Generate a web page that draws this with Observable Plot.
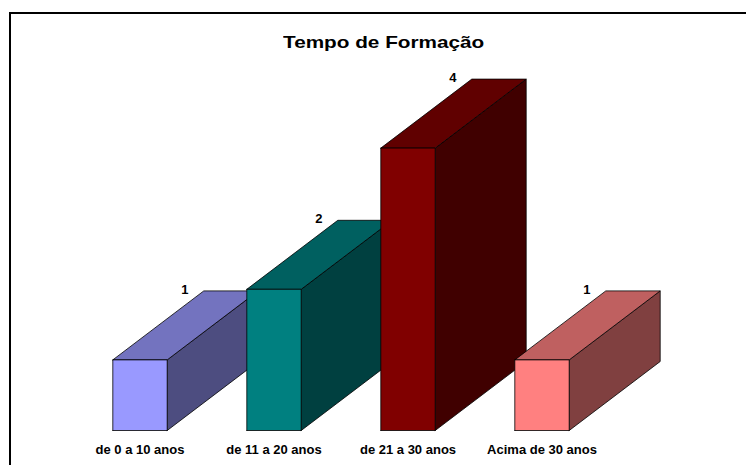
<!DOCTYPE html>
<html>
<head>
<meta charset="utf-8">
<script src="https://cdn.jsdelivr.net/npm/d3@7"></script>
<script src="https://cdn.jsdelivr.net/npm/@observablehq/plot@0.6"></script>
<style>
  html, body { margin: 0; padding: 0; background: #fff; overflow: hidden; }
  #wrap { position: relative; width: 746px; height: 465px; overflow: hidden; font-family: "Liberation Sans", Arial, sans-serif; }
  #frame { position: absolute; left: 9px; top: 12px; width: 800px; height: 500px; border-top: 2px solid #000; border-left: 2px solid #000; pointer-events: none; }
  #title { height: 26px; padding-top: 34px; line-height: 17px; font-size: 17px; font-weight: bold; color: #000; white-space: nowrap; }
  #title span { display: inline-block; margin-left: 283px; transform-origin: left center; transform: scaleX(1.22); }
  #chart svg { display: block; }
</style>
</head>
<body>
<div id="wrap">
  <div id="frame"></div>
  <div id="title"><span>Tempo de Formação</span></div>
  <div id="chart"></div>
</div>
<script>
// ---- data ----
const categories = ["de 0 a 10 anos", "de 11 a 20 anos", "de 21 a 30 anos", "Acima de 30 anos"];
const values = [1, 2, 4, 1];
const frontColors = ["#9999FF", "#008080", "#800000", "#FF8080"];
const topColors = ["#7373BF", "#006060", "#600000", "#BF6060"];
const sideColors = ["#4D4D80", "#004040", "#400000", "#804040"];

// ---- geometry (scale setup) ----
const W = 746, H = 405;
const xDomain = [0, 3], xRange = [139.5, 541.5];
const yDomain = [0, 4], yRange = [370, 87.6];
const pxPerX = (xRange[1] - xRange[0]) / (xDomain[1] - xDomain[0]);
const pxPerY = (yRange[0] - yRange[1]) / (yDomain[1] - yDomain[0]);
const hw = 27.2 / pxPerX;      // half bar width, in x units
const D = 91 / pxPerX;         // depth offset x, in x units
const E = 69 / pxPerY;         // depth offset y, in value units

const faces = [];
values.forEach((v, i) => {
  const x0 = i - hw, x1 = i + hw;
  const side = [[x1, 0], [x1 + D, E], [x1 + D, v + E], [x1, v], [x1, 0]];
  const top = [[x0, v], [x1, v], [x1 + D, v + E], [x0 + D, v + E], [x0, v]];
  const front = [[x0, 0], [x1, 0], [x1, v], [x0, v], [x0, 0]];
  [[side, sideColors[i], "s"], [top, topColors[i], "t"], [front, frontColors[i], "f"]].forEach(([pts, c, k]) => {
    pts.forEach(([x, y]) => faces.push({id: `${i}-${k}`, x, y, color: c}));
  });
});

const valueLabels = values.map((v, i) => ({x: i - hw + D, y: v + E, label: String(v)}));
const catLabels = categories.map((c, i) => ({x: i, y: 0, label: c}));

const plot = Plot.plot({
  width: W,
  height: H,
  marginTop: 0, marginBottom: 0, marginLeft: 0, marginRight: 0,
  style: {fontFamily: "'Liberation Sans', Arial, sans-serif", background: "transparent", overflow: "visible"},
  x: {type: "linear", domain: xDomain, range: xRange, axis: null},
  y: {type: "linear", domain: yDomain, range: yRange, axis: null},
  color: {type: "identity"},
  marks: [
    Plot.line(faces, {x: "x", y: "y", z: "id", fill: "color", stroke: "#000", strokeWidth: 0.8, strokeLinejoin: "miter", curve: "linear"}),
    Plot.text(valueLabels, {x: "x", y: "y", text: "label", dx: -19, dy: -1, fontSize: 13, fontWeight: "bold", fill: "#000"}),
    Plot.text(catLabels, {x: "x", y: "y", text: "label", dy: 19, fontSize: 13, fontWeight: "bold", fill: "#000"})
  ]
});
document.getElementById("chart").appendChild(plot);
</script>
</body>
</html>
